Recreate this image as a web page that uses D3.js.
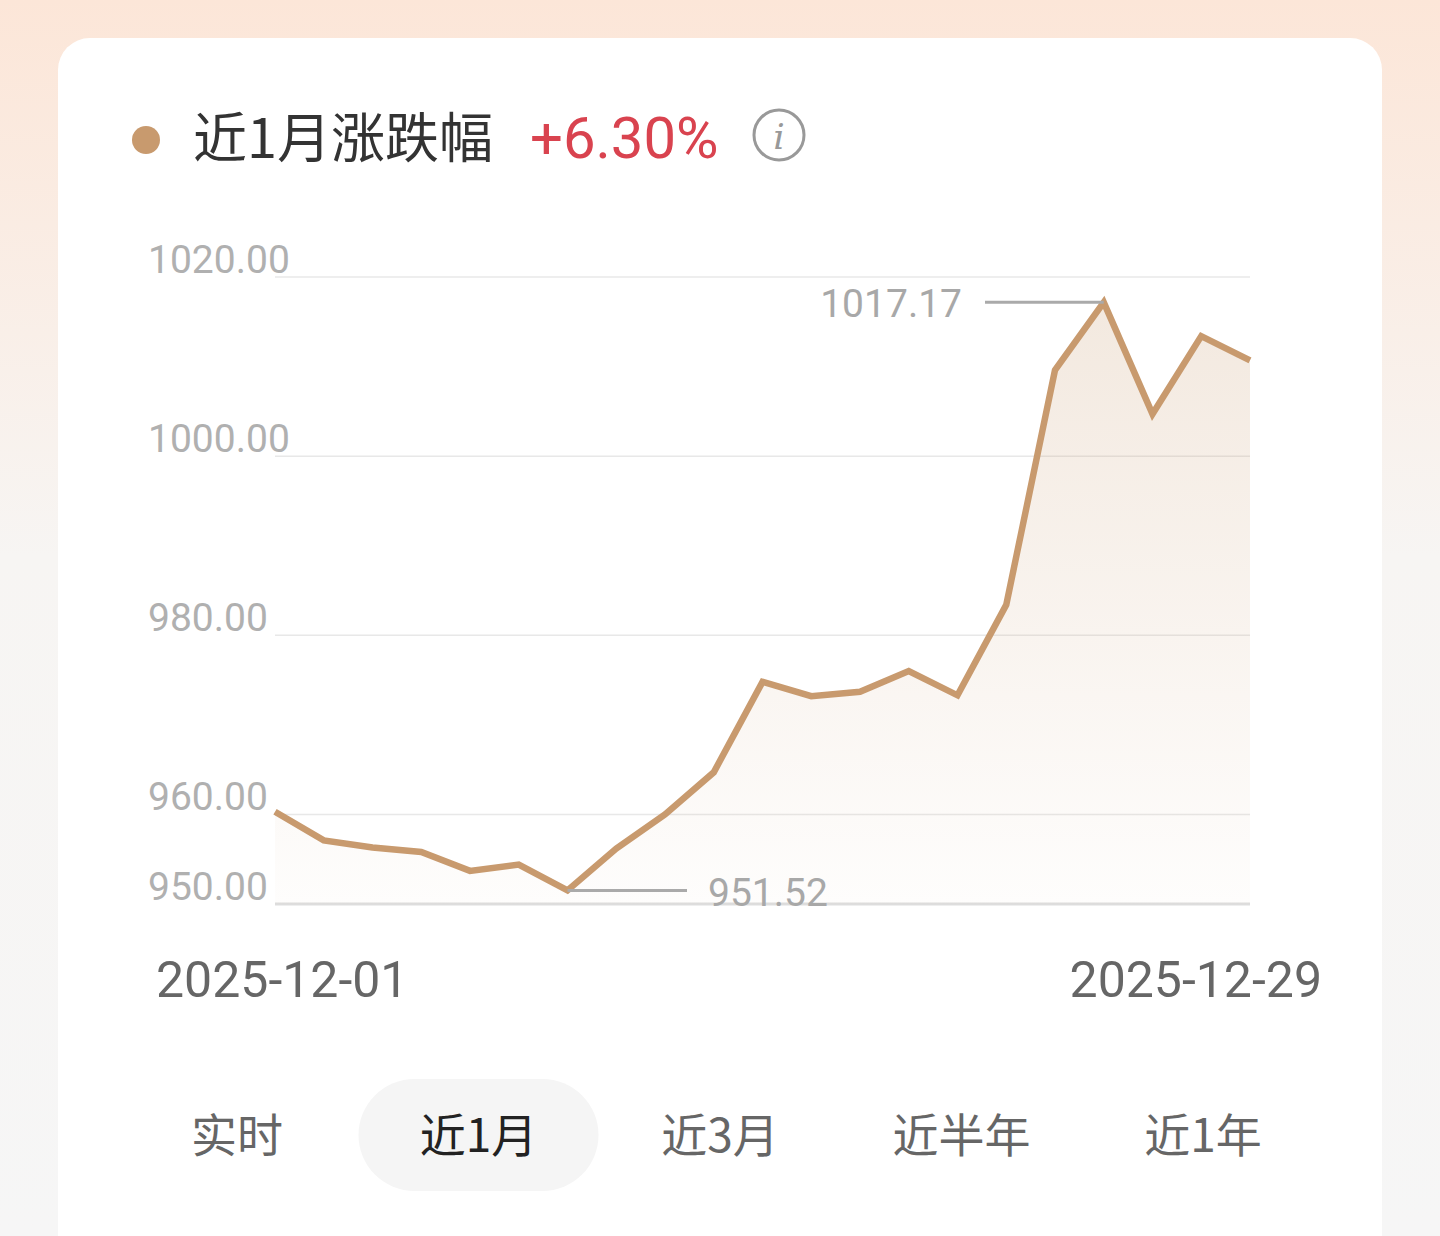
<!DOCTYPE html>
<html><head><meta charset="utf-8">
<script src="https://cdn.jsdelivr.net/npm/d3@7"></script>
<style>
body{margin:0;background:#fff;font-family:"Noto Sans CJK SC","Noto Sans",sans-serif;}
</style></head><body>
<svg id="chart" width="1440" height="1236"></svg>
<script>
// Trading days of Dec 2025 and closing values
const dates = ["2025-12-01","2025-12-02","2025-12-03","2025-12-04","2025-12-05","2025-12-08","2025-12-09",
  "2025-12-10","2025-12-11","2025-12-12","2025-12-15","2025-12-16","2025-12-17","2025-12-18","2025-12-19",
  "2025-12-22","2025-12-23","2025-12-24","2025-12-25","2025-12-26","2025-12-29"];
const values = [960.3,957.1,956.3,955.8,953.7,954.4,951.52,956.2,960.0,964.7,974.8,973.2,973.7,976.0,973.3,
  983.4,1009.6,1017.17,1004.7,1013.4,1010.7];
const yTicks = [950,960,980,1000,1020];
const tabs = ["实时","近1月","近3月","近半年","近1年"];
const activeTab = "近1月";

const svg = d3.select("#chart");
const defs = svg.append("defs");

// page background
const bg = defs.append("linearGradient").attr("id","bg").attr("x1",0).attr("y1",0).attr("x2",0).attr("y2",1);
bg.append("stop").attr("offset","0%").attr("stop-color","#fce6d8");
bg.append("stop").attr("offset","45%").attr("stop-color","#f7f5f3");
bg.append("stop").attr("offset","100%").attr("stop-color","#f6f6f6");
svg.append("rect").attr("width",1440).attr("height",1236).attr("fill","url(#bg)");

// card
svg.append("rect").attr("x",58).attr("y",38).attr("width",1324).attr("height",1260).attr("rx",32).attr("fill","#fff");

// title
svg.append("circle").attr("cx",146).attr("cy",140).attr("r",14).attr("fill","#c89a6e");
svg.append("text").attr("x",193).attr("y",158).attr("font-size",54).attr("fill","#333").text("近1月涨跌幅");
svg.append("text").attr("x",530).attr("y",158).attr("font-size",58).attr("fill","#d9434f")
  .attr("font-family","Roboto, sans-serif").text("+6.30%");
svg.append("circle").attr("cx",779).attr("cy",135).attr("r",25).attr("fill","none").attr("stroke","#999").attr("stroke-width",3);
svg.append("text").attr("x",779).attr("y",149).attr("text-anchor","middle").attr("font-size",36)
  .attr("font-style","italic").attr("font-family","DejaVu Serif, serif").attr("fill","#999").text("i");

// scales
const x = d3.scalePoint().domain(dates).range([275,1250]);
const y = d3.scaleLinear().domain([950,1020]).range([904,277]);

// gridlines
svg.append("g").selectAll("line").data(yTicks).enter().append("line")
  .attr("x1",275).attr("x2",1250).attr("y1",d=>y(d)).attr("y2",d=>y(d))
  .attr("stroke",d=>d===950?"#dddddd":"#e8e8e8").attr("stroke-width",d=>d===950?3:1.5);
svg.append("g").selectAll("text").data(yTicks).enter().append("text")
  .attr("x",148).attr("y",d=>y(d)-4).attr("font-size",39).attr("fill","#b0b0b0")
  .attr("font-family","Roboto, sans-serif").text(d=>d.toFixed(2));

// area + line
const ag = defs.append("linearGradient").attr("id","area").attr("x1",0).attr("y1",0).attr("x2",0).attr("y2",1);
ag.append("stop").attr("offset","0%").attr("stop-color","#c89a6e").attr("stop-opacity",0.22);
ag.append("stop").attr("offset","100%").attr("stop-color","#c89a6e").attr("stop-opacity",0.02);
const pts = dates.map((d,i)=>({d, v: values[i]}));
svg.append("path").datum(pts).attr("fill","url(#area)")
  .attr("d", d3.area().x(p=>x(p.d)).y0(y(950)).y1(p=>y(p.v)));
svg.append("path").datum(pts).attr("fill","none").attr("stroke","#c89a6e").attr("stroke-width",6.5)
  .attr("d", d3.line().x(p=>x(p.d)).y(p=>y(p.v)));

// max / min annotations
const maxI = d3.maxIndex(values), minI = d3.minIndex(values);
svg.append("line").attr("x1",985).attr("x2",x(dates[maxI])).attr("y1",y(values[maxI])).attr("y2",y(values[maxI]))
  .attr("stroke","#aaa").attr("stroke-width",3);
svg.append("text").attr("x",962).attr("y",y(values[maxI])+15).attr("text-anchor","end").attr("font-size",39)
  .attr("fill","#a8a8a8").attr("font-family","Roboto, sans-serif").text(values[maxI].toFixed(2));
svg.append("line").attr("x1",x(dates[minI])).attr("x2",687).attr("y1",y(values[minI])).attr("y2",y(values[minI]))
  .attr("stroke","#aaa").attr("stroke-width",3);
svg.append("text").attr("x",708).attr("y",y(values[minI])+16).attr("font-size",39)
  .attr("fill","#a8a8a8").attr("font-family","Roboto, sans-serif").text(values[minI].toFixed(2));

// x labels
svg.append("text").attr("x",156).attr("y",997).attr("font-size",50).attr("fill","#666")
  .attr("font-family","Roboto, sans-serif").text(dates[0]);
svg.append("text").attr("x",1322).attr("y",997).attr("text-anchor","end").attr("font-size",50).attr("fill","#666")
  .attr("font-family","Roboto, sans-serif").text(dates[dates.length-1]);

// tabs
const tx = d3.scalePoint().domain(tabs).range([237,1203]);
svg.append("rect").attr("x",tx(activeTab)-120).attr("y",1079).attr("width",240).attr("height",112)
  .attr("rx",56).attr("fill","#f5f5f5");
svg.append("g").selectAll("text").data(tabs).enter().append("text")
  .attr("x",d=>tx(d)).attr("y",1152).attr("text-anchor","middle").attr("font-size",46)
  .attr("fill",d=>d===activeTab?"#222":"#666").text(d=>d);
</script>
</body></html>
